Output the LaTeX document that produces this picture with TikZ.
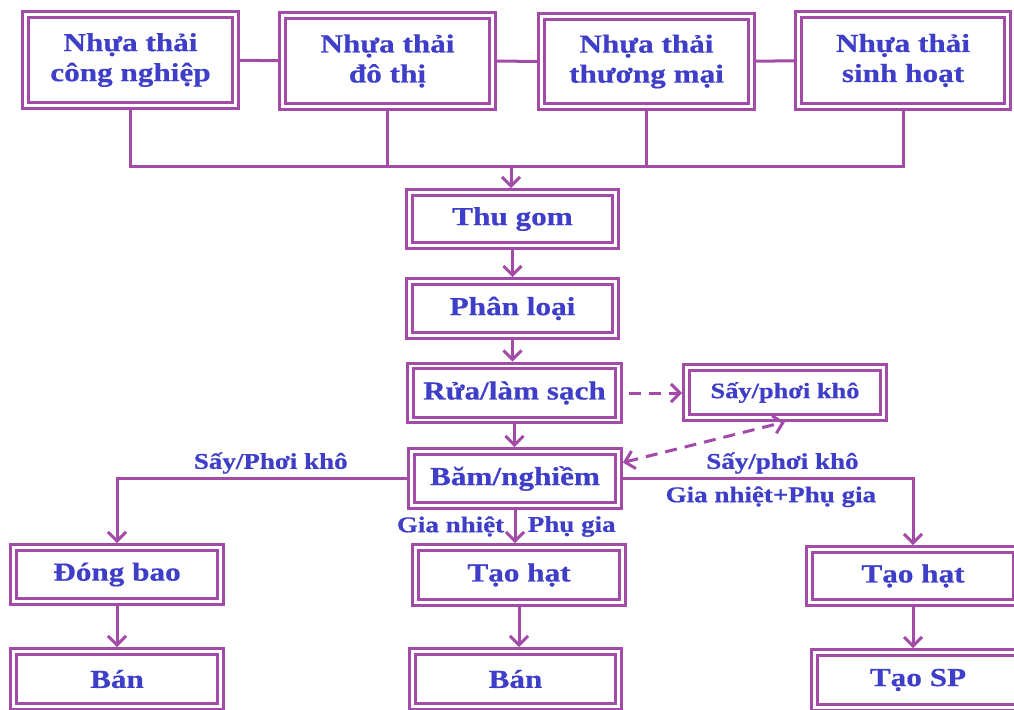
\documentclass[tikz,border=0pt]{standalone}
\usepackage{fontspec}
\setmainfont{Liberation Serif}[FakeStretch=1.2, BoldFeatures={FakeBold=0.6}]
\usetikzlibrary{arrows.meta}
\definecolor{plum}{RGB}{162,76,168}
\definecolor{ink}{RGB}{62,62,200}
\begin{document}
\begin{tikzpicture}[x=1pt,y=-1pt,
    box/.style={draw=plum, double=white, line width=3.2pt, double distance=2.4pt,
      outer sep=4.4pt, text=ink, align=center,
      font=\bfseries\fontsize{26}{30}\selectfont},
    lbl/.style={text=ink, font=\bfseries\fontsize{22.5}{25}\selectfont},
    line/.style={draw=plum, line width=3pt},
    arr/.style={line, -{Straight Barb[length=9pt,width=18pt]}},
    dasharr/.style={arr, dash pattern=on 12pt off 8pt}]
      \clip (0,0) rectangle (1014,709);
      % Sources of waste plastic
      \node[box, minimum width=210pt, minimum height=91pt] (cn) at (130.5,60) {Nhựa thải\\công nghiệp};
      \node[box, minimum width=210pt, minimum height=91pt] (dt) at (387.5,61) {Nhựa thải\\đô thị};
      \node[box, minimum width=210pt, minimum height=90pt] (tm) at (646.5,61.5) {Nhựa thải\\thương mại};
      \node[box, minimum width=209pt, minimum height=92pt] (sh) at (903,60.5) {Nhựa thải\\sinh hoạt};
      \draw[line] (cn) -- (dt);
      \draw[line] (dt) -- (tm);
      \draw[line] (tm) -- (sh);
      % Common collecting line
      \coordinate (bus) at (511,166);
      \draw[line] (cn.south) |- (bus) -| (sh.south);
      \draw[line] (dt.south) -- (dt.south |- bus);
      \draw[line] (tm.south) -- (tm.south |- bus);
      % Main chain
      \node[box, minimum width=206pt, minimum height=53pt] (thu) at (512.5,219) {Thu gom};
      \node[box, minimum width=206pt, minimum height=54pt] (phan) at (512.5,308.5) {Phân loại};
      \node[box, minimum width=208pt, minimum height=54pt] (rua) at (514.5,393) {Rửa/làm sạch};
      \node[box, minimum width=197pt, minimum height=50pt, font=\bfseries\fontsize{22}{24}\selectfont] (say) at (785,392.5) {Sấy/phơi khô};
      \node[box, minimum width=207pt, minimum height=54pt] (bam) at (515,478.5) {Băm/nghiềm};
      \draw[arr] (bus) -- (bus |- thu.north);
      \draw[arr] (thu.south) -- (thu.south |- phan.north);
      \draw[arr] (phan.south) -- (phan.south |- rua.north);
      \draw[arr] (rua.south) -- (rua.south |- bam.north);
      % Drying side step
      \draw[dasharr, shorten <=6pt] (rua.east) -- (rua.east -| say.west);
      \draw[dasharr, {Straight Barb[length=9pt,width=18pt]}-{Straight Barb[length=9pt,width=18pt]}] ([yshift=16pt]bam.east) -- (say.south);
      % Three outputs
      \node[box, minimum width=207pt, minimum height=54pt] (dong) at (117,574.5) {Đóng bao};
      \node[box, minimum width=207pt, minimum height=55pt] (ban1) at (117,679) {Bán};
      \node[box, minimum width=207pt, minimum height=55pt] (tao1) at (519,575) {Tạo hạt};
      \node[box, minimum width=206pt, minimum height=55pt] (ban2) at (515.5,679) {Bán};
      \node[box, minimum width=207pt, minimum height=53pt] (tao2) at (913,576) {Tạo hạt};
      \node[box, minimum width=207pt, minimum height=55pt] (sp) at (918,680) {Tạo SP};
      \draw[arr] (bam.west) -| node[lbl, pos=0.235, above] {Sấy/Phơi khô} (dong.north);
      \draw[arr] (bam.south) -- node[lbl, left=6pt] {Gia nhiệt} node[lbl, right=8pt] {Phụ gia} (bam.south |- tao1.north);
      \draw[arr] (bam.east) -| node[lbl, pos=0.275, above] {Sấy/phơi khô}
        node[lbl, pos=0.255, below=3pt] {Gia nhiệt+Phụ gia} (tao2.north);
      \draw[arr] (dong) -- (ban1);
      \draw[arr] (tao1.south) -- (tao1.south |- ban2.north);
      \draw[arr] (tao2.south) -- (tao2.south |- sp.north);
\end{tikzpicture}
\end{document}
